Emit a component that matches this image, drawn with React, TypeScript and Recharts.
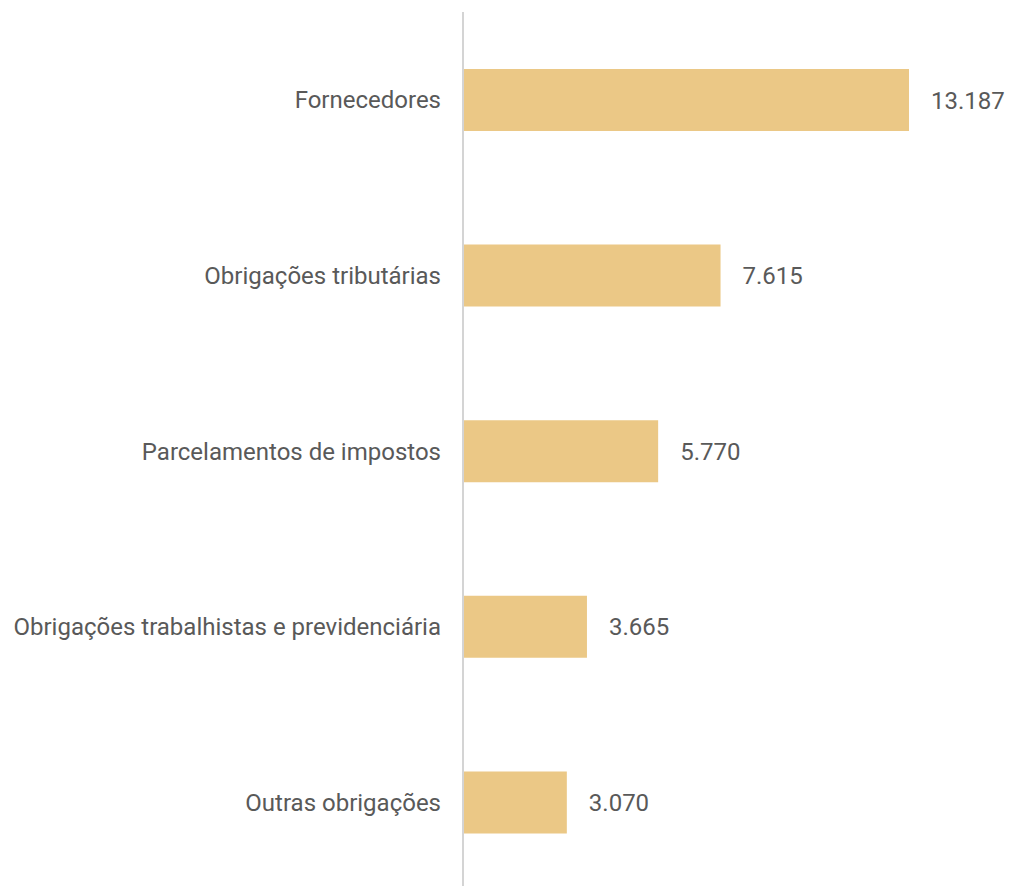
import { BarChart, Bar, XAxis, YAxis, LabelList } from "recharts";

const categories = [
  "Fornecedores",
  "Obrigações tributárias",
  "Parcelamentos de impostos",
  "Obrigações trabalhistas e previdenciária",
  "Outras obrigações",
];
const values = [13187, 7615, 5770, 3665, 3070];

const data = categories.map((label, i) => ({ label, value: values[i] }));

// 13187 -> "13.187"
function formatBR(v: number): string {
  return String(v).replace(/\B(?=(\d{3})+(?!\d))/g, ".");
}

export default function App() {
  return (
    <div style={{ position: "absolute", left: 0, top: 0, fontFamily: "Roboto" }}>
      <BarChart
        width={1009}
        height={890}
        data={data}
        layout="vertical"
        margin={{ top: 12, right: 100, left: 0, bottom: 0 }}
        barCategoryGap={0}
      >
        <XAxis type="number" hide domain={[0, "dataMax"]} />
        <YAxis
          dataKey="label"
          type="category"
          width={463}
          tickLine={false}
          tickSize={0}
          tickMargin={22}
          axisLine={{ stroke: "#d4d4d4", strokeWidth: 2 }}
          tick={{ fill: "#595959", fontSize: 24, fontFamily: "Roboto" }}
        />
        <Bar dataKey="value" fill="#EBC886" barSize={62} isAnimationActive={false}>
          <LabelList
            dataKey="value"
            position="right"
            offset={22}
            formatter={(v: any) => formatBR(Number(v))}
            style={{ fill: "#595959", fontSize: 24, fontFamily: "Roboto" }}
          />
        </Bar>
      </BarChart>
    </div>
  );
}
